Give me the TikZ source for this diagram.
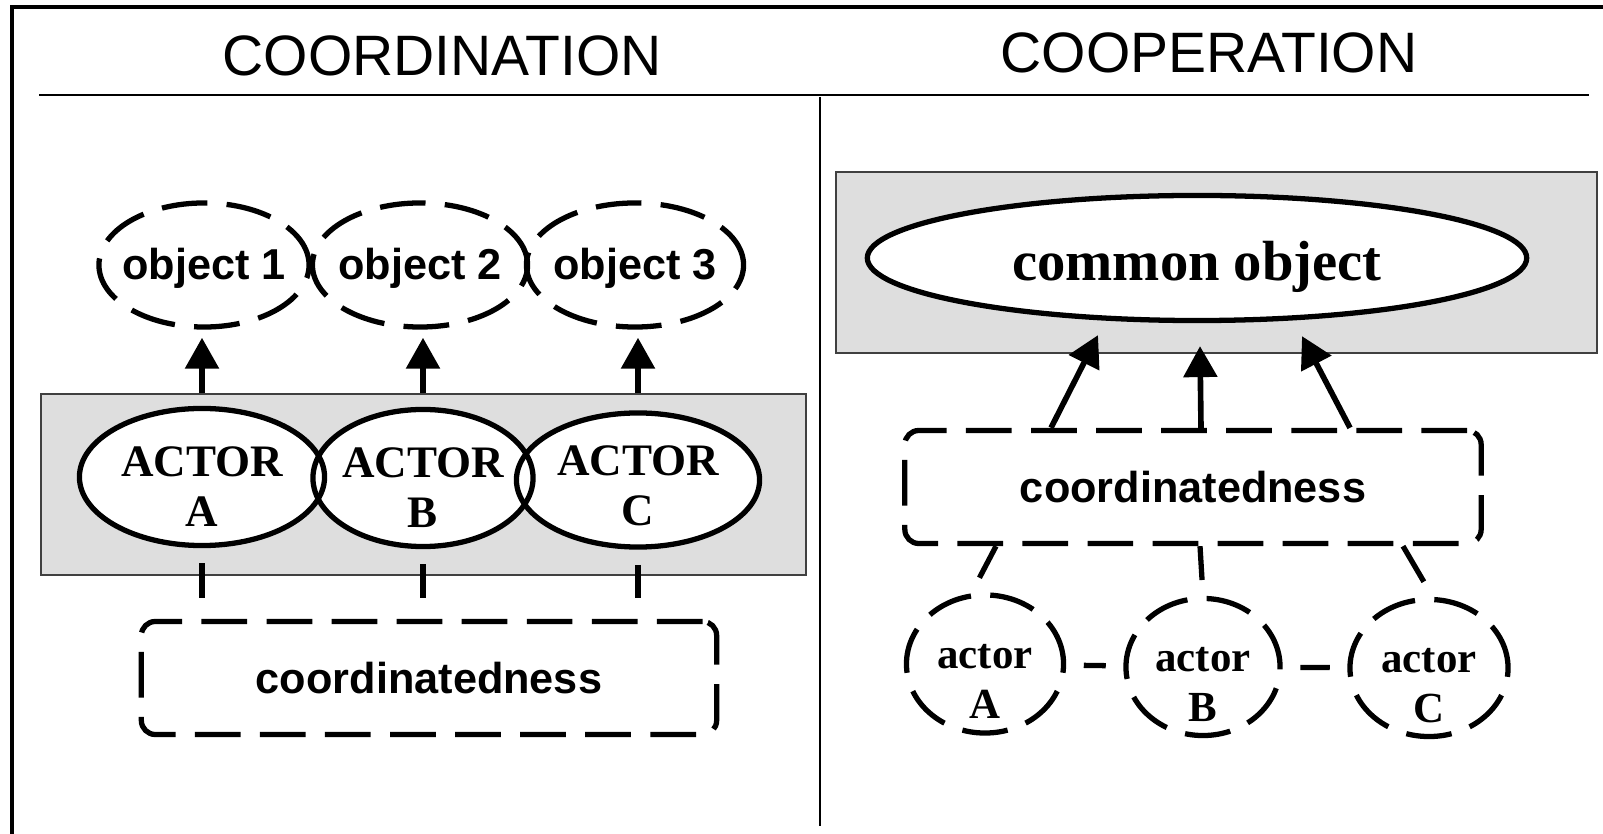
\documentclass[tikz,border=0pt]{standalone}
\usepackage{fontspec}
\setmainfont{Liberation Serif}
\setsansfont{Liberation Sans}
\usetikzlibrary{arrows.meta,calc,positioning,shapes.geometric}

\tikzset{
  heading/.style={font=\sffamily\fontsize{16.2}{18}\selectfont},
  pool/.style={rectangle,draw=black!75,line width=0.5pt,fill=black!13,inner sep=0pt},
  objbub/.style={ellipse,draw,line width=1.5pt,dash pattern=on 13pt off 5.5pt,inner xsep=-5pt,inner ysep=0pt,
    text height=8pt,text depth=0pt,font=\sffamily\bfseries\fontsize{12.3}{14}\selectfont},
  actbub/.style={ellipse,draw,line width=1.5pt,inner xsep=-4pt,inner ysep=-3pt,align=center,
    text height=28.4pt,text depth=0pt,font=\bfseries\fontsize{12.8}{14.2}\selectfont},
  commonbub/.style={ellipse,draw,fill=white,line width=1.5pt,inner sep=0pt,
    text height=12.6pt,text depth=0pt,font=\bfseries\fontsize{16.1}{18}\selectfont},
  smallact/.style={ellipse,draw,line width=1.5pt,dash pattern=on 13pt off 5.5pt,inner xsep=0pt,inner ysep=-3pt,align=center,
    text height=30.8pt,text depth=0pt,font=\bfseries\fontsize{12.2}{14.2}\selectfont},
  coordbox/.style={rectangle,rounded corners=4pt,draw,line width=1.5pt,dash pattern=on 13pt off 5.5pt,
    text height=9pt,text depth=0pt,font=\sffamily\bfseries\fontsize{12.3}{14}\selectfont},
  arr/.style={draw,line width=1.6pt,-{Triangle[width=9.4pt,length=8.8pt]}},
  tie/.style={draw,line width=1.5pt},
}

\begin{document}
\begin{tikzpicture}[x=0.01cm,y=-0.01cm]
  \useasboundingbox (0,0) rectangle (1603,834);
  % frame, header rule and divider
  \draw[line width=1pt] (12,834) -- (12,7) -- (1603,7);
  \draw[line width=0.7pt] (39,95) -- (1589,95);
  \draw[line width=0.7pt] (820,97) -- (820,826);
  \node[heading] (ttlcoord) at (442,56) {COORDINATION};
  \node[heading] (ttlcoop) at (1209,53) {COOPERATION};

  % coordination side
  \node[pool,minimum width=76.5mm,minimum height=18.1mm] (lpool) at (423.5,484.5) {};
  % white discs first so the outlines can cross
  \foreach \x/\y/\rx/\ry in {202/477/122.5/68.5, 423/478/110/68.5, 638/480/121.5/67}
    \fill[white] (\x,\y) ellipse [x radius=\rx, y radius=\ry];
  \node[actbub,minimum width=24.5mm,minimum height=13.7mm] (actA) at (202,477) {ACTOR\\A};
  \node[actbub,minimum width=22mm,minimum height=13.7mm] (actB) at (423,478) {ACTOR\\B};
  \node[actbub,minimum width=24.3mm,minimum height=13.4mm,text height=25.6pt] (actC) at (638,480) {ACTOR\\C};
  \node[objbub,minimum width=21mm,minimum height=12.4mm] (obj1) at (204,265) {object 1};
  \node[objbub,minimum width=21.5mm,minimum height=12.4mm] (obj2) at (420,265) {object 2};
  \node[objbub,minimum width=21.7mm,minimum height=12.4mm] (obj3) at (635,265) {object 3};
  \node[coordbox,minimum width=57.5mm,minimum height=11.3mm] (lcoord) at (429,678) {coordinatedness};
  \foreach \a/\o in {actA/obj1,actB/obj2,actC/obj3}
    \draw[arr,shorten >=2.3pt] (\a |- lpool.north) -- (\a |- \o.south);
  \foreach \a in {actA,actB,actC}
    \draw[tie,shorten <=4.3pt,shorten >=6pt] (\a.south) -- (\a |- lcoord.north);

  % cooperation side
  \node[pool,minimum width=76.1mm,minimum height=18.1mm] (rpool) at (1216.5,262.5) {};
  \node[commonbub,minimum width=65.9mm,minimum height=12.5mm] (common) at (1197,258) {common object};
  \node[coordbox,minimum width=57.6mm,minimum height=11.3mm] (rcoord) at (1193,487) {coordinatedness};
  \draw[arr] ($(rcoord.north)+(-142,0)$) -- ($(common.south)+(-99,12)$);
  \draw[arr] ($(rcoord.north)+(8,0)$) -- ($(common.south)+(3,23)$);
  \draw[arr] ($(rcoord.north)+(157,0)$) -- ($(common.south)+(105,13)$);
  \node[smallact,minimum width=15.7mm,minimum height=13.8mm] (ractA) at (985,664) {actor\\A};
  \node[smallact,minimum width=15.4mm,minimum height=13.7mm] (ractB) at (1203,667) {actor\\B};
  \node[smallact,minimum width=15.8mm,minimum height=13.7mm] (ractC) at (1429,668) {actor\\C};
  \draw[tie,shorten >=5pt] ($(rcoord.south)+(-197,0)$) -- (ractA.101);
  \draw[tie,shorten >=4.5pt] ($(rcoord.south)+(7,0)$) -- (ractB.north);
  \draw[tie,shorten >=5pt] ($(rcoord.south)+(210,0)$) -- (ractC.87);
  \draw[tie,shorten <=5pt,shorten >=5pt] (ractA) -- (ractB);
  \draw[tie,shorten <=5pt,shorten >=5pt] (ractB) -- (ractC);
\end{tikzpicture}
\end{document}
